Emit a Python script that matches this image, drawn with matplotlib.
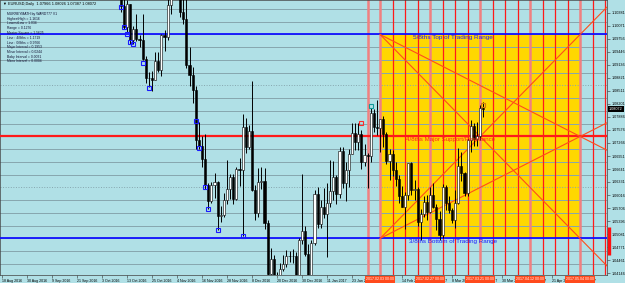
import matplotlib
matplotlib.use("Agg")
import matplotlib.pyplot as plt
import matplotlib.transforms as mtransforms
from matplotlib.patches import Rectangle

# ---------------- data ----------------
# bar index 0 = 18 Aug 2016 (daily bars, business days)
first_bar = 32  # 3 Oct 2016
opens = [1.1238, 1.1208, 1.1206, 1.1204, 1.1150, 1.1200, 1.1145, 1.1055, 1.1005, 1.1058, 1.0972, 1.0999, 1.0975, 1.0973, 1.0927, 1.0883, 1.0882, 1.0877, 1.0922, 1.0900, 1.0985,
         1.0980, 1.1057, 1.1094, 1.1102, 1.1137, 1.1039, 1.1024, 1.0912, 1.0890, 1.0852, 1.0734, 1.0720, 1.0689, 1.0625, 1.0588, 1.0627, 1.0633, 1.0552, 1.0553, 1.0590, 1.0617, 1.0646,
         1.0592, 1.0663, 1.0662, 1.0765, 1.0717, 1.0755, 1.0613, 1.0560, 1.0632, 1.0635, 1.0535, 1.0414, 1.0449, 1.0401, 1.0382, 1.0424, 1.0436, 1.0455, 1.0457, 1.0455, 1.0408, 1.0494,
         1.0517, 1.0460, 1.0403, 1.0487, 1.0605, 1.0532, 1.0573, 1.0556, 1.0583, 1.0612, 1.0644, 1.0605, 1.0707, 1.0631, 1.0662, 1.0701, 1.0750, 1.0728, 1.0749, 1.0680, 1.0697, 1.0695,
         1.0798, 1.0765, 1.0763, 1.0784, 1.0749, 1.0683, 1.0700, 1.0661, 1.0640, 1.0599, 1.0574, 1.0601, 1.0679, 1.0614, 1.0617, 1.0538, 1.0557, 1.0586, 1.0561, 1.0603,
         1.0574, 1.0544, 1.0506, 1.0620, 1.0582, 1.0566, 1.0543, 1.0582, 1.0672, 1.0655, 1.0606, 1.0733, 1.0766, 1.0737, 1.0742, 1.0810]
highs = [1.1250, 1.1245, 1.1238, 1.1216, 1.1204, 1.1200, 1.1149, 1.1077, 1.1068, 1.1058, 1.1007, 1.1035, 1.0985, 1.1036, 1.0935, 1.0896, 1.0899, 1.0945, 1.0943, 1.0988, 1.0997,
         1.1070, 1.1111, 1.1126, 1.1144, 1.1144, 1.1072, 1.1300, 1.0955, 1.0909, 1.0863, 1.0777, 1.0742, 1.0748, 1.0630, 1.0634, 1.0654, 1.0635, 1.0576, 1.0606, 1.0685, 1.0653, 1.0652,
         1.0668, 1.0690, 1.0796, 1.0787, 1.0770, 1.0875, 1.0625, 1.0667, 1.0670, 1.0666, 1.0541, 1.0474, 1.0459, 1.0418, 1.0440, 1.0458, 1.0470, 1.0468, 1.0473, 1.0466, 1.0498, 1.0653,
         1.0528, 1.0485, 1.0494, 1.0615, 1.0622, 1.0591, 1.0618, 1.0630, 1.0685, 1.0683, 1.0650, 1.0718, 1.0718, 1.0682, 1.0712, 1.0775, 1.0775, 1.0775, 1.0757, 1.0724, 1.0702, 1.0810,
         1.0808, 1.0829, 1.0784, 1.0792, 1.0752, 1.0711, 1.0710, 1.0681, 1.0651, 1.0623, 1.0610, 1.0679, 1.0680, 1.0637, 1.0620, 1.0569, 1.0600, 1.0602, 1.0621, 1.0630,
         1.0580, 1.0564, 1.0629, 1.0625, 1.0600, 1.0572, 1.0615, 1.0714, 1.0705, 1.0658, 1.0737, 1.0782, 1.0774, 1.0777, 1.0818, 1.0824]
lows = [1.1195, 1.1185, 1.1185, 1.1145, 1.1110, 1.1139, 1.1040, 1.0998, 1.0993, 1.0964, 1.0963, 1.0970, 1.0955, 1.0925, 1.0870, 1.0860, 1.0851, 1.0876, 1.0897, 1.0886, 1.0946,
        1.0972, 1.1036, 1.1073, 1.1074, 1.1028, 1.1011, 1.0906, 1.0863, 1.0822, 1.0712, 1.0713, 1.0668, 1.0617, 1.0568, 1.0583, 1.0596, 1.0518, 1.0537, 1.0550, 1.0581, 1.0592, 1.0580,
        1.0589, 1.0623, 1.0505, 1.0702, 1.0712, 1.0611, 1.0543, 1.0550, 1.0616, 1.0520, 1.0366, 1.0395, 1.0386, 1.0352, 1.0380, 1.0420, 1.0430, 1.0441, 1.0440, 1.0374, 1.0401, 1.0485,
        1.0455, 1.0340, 1.0388, 1.0482, 1.0523, 1.0522, 1.0546, 1.0453, 1.0574, 1.0590, 1.0580, 1.0595, 1.0618, 1.0588, 1.0621, 1.0699, 1.0710, 1.0709, 1.0663, 1.0671, 1.0618, 1.0680,
        1.0752, 1.0745, 1.0704, 1.0718, 1.0677, 1.0639, 1.0648, 1.0624, 1.0584, 1.0573, 1.0521, 1.0590, 1.0603, 1.0590, 1.0529, 1.0494, 1.0550, 1.0542, 1.0560, 1.0570,
        1.0518, 1.0494, 1.0500, 1.0567, 1.0560, 1.0536, 1.0524, 1.0580, 1.0636, 1.0599, 1.0599, 1.0705, 1.0719, 1.0720, 1.0734, 1.0789]
closes = [1.1208, 1.1206, 1.1204, 1.1150, 1.1200, 1.1145, 1.1055, 1.1005, 1.1058, 1.0972, 1.0999, 1.0975, 1.0973, 1.0927, 1.0883, 1.0882, 1.0877, 1.0922, 1.0900, 1.0985, 1.0980,
          1.1057, 1.1094, 1.1102, 1.1137, 1.1039, 1.1024, 1.0912, 1.0890, 1.0852, 1.0734, 1.0720, 1.0689, 1.0625, 1.0588, 1.0627, 1.0633, 1.0552, 1.0553, 1.0590, 1.0617, 1.0646, 1.0592,
          1.0663, 1.0662, 1.0765, 1.0717, 1.0755, 1.0613, 1.0560, 1.0632, 1.0635, 1.0535, 1.0414, 1.0449, 1.0401, 1.0382, 1.0424, 1.0436, 1.0455, 1.0457, 1.0455, 1.0408, 1.0494, 1.0517,
          1.0460, 1.0403, 1.0487, 1.0605, 1.0532, 1.0573, 1.0556, 1.0583, 1.0612, 1.0644, 1.0605, 1.0707, 1.0631, 1.0662, 1.0701, 1.0750, 1.0728, 1.0749, 1.0680, 1.0697, 1.0695, 1.0798,
          1.0765, 1.0763, 1.0784, 1.0749, 1.0683, 1.0700, 1.0661, 1.0640, 1.0599, 1.0574, 1.0601, 1.0679, 1.0614, 1.0617, 1.0538, 1.0557, 1.0586, 1.0561, 1.0603, 1.0574,
          1.0544, 1.0506, 1.0620, 1.0582, 1.0566, 1.0543, 1.0582, 1.0672, 1.0655, 1.0606, 1.0733, 1.0766, 1.0737, 1.0742, 1.0810, 1.0807]

# x-axis date labels (every 8 bars)
tick_step = 8
tick_labels = ["18 Aug 2016", "30 Aug 2016", "9 Sep 2016", "21 Sep 2016", "3 Oct 2016", "13 Oct 2016",
               "25 Oct 2016", "4 Nov 2016", "16 Nov 2016", "28 Nov 2016", "8 Dec 2016", "20 Dec 2016",
               "30 Dec 2016", "11 Jan 2017", "23 Jan 2017", "2 Feb 2017", "14 Feb 2017", "24 Feb 2017",
               "8 Mar 2017", "20 Mar 2017", "30 Mar 2017", "11 Apr 2017", "21 Apr 2017", "3 May 2017"]

# right price scale labels
price_ticks = [1.04146, 1.04461, 1.04771, 1.05081, 1.05396, 1.05706, 1.06016, 1.06331, 1.06641,
               1.06951, 1.07266, 1.07576, 1.07886, 1.08201, 1.08511, 1.08821, 1.09136, 1.09446,
               1.09756, 1.10071, 1.10381]
last_price = 1.08072

# Murrey math levels
level_top = 1.0986      # 5/8
level_mid = 1.0742      # 4/8
level_bot = 1.0498      # 3/8
baby_interval = 0.00305
baby_range = list(range(-3, 20))
dotted_baby = [4, 12]

# time square / vertical lines
square_start = 121
square_end = 185
vline_idx = list(range(117, 194, 4))
vline_light = [117, 121, 137, 153, 169, 185]
vline_major = [121, 137, 153, 169, 185]
vline_dates = ["2017.02.03 00:00", "2017.02.27 00:00", "2017.03.21 00:00", "2017.04.12 00:00", "2017.05.04 00:00"]

# swing markers
sq_idx = [38, 39, 40, 41, 42, 45, 47, 62, 63, 65, 66, 69, 77]
sq_price = [1.1052, 1.1004, 1.0987, 1.0968, 1.0963, 1.0918, 1.0858, 1.0779, 1.0714, 1.0621, 1.0568, 1.0518, 1.0505]
sig_idx = [115, 118, 154]
sig_price = [1.0775, 1.0814, 1.0818]
sig_colors = ["#ff2a2a", "#109a9a", "#d07a10"]

info_lines = ["MURREYMATH by WARD777 V1", "HighestHigh = 1.1616", "LowestLow = 1.034", "Range = 0.1276",
              "Master Square = 1.5625", "Line : 4/8ths = 1.1719", "Line : 0/8ths = 0.9766",
              "Major Interval = 0.1953", "Minor Interval = 0.0244", "Baby Interval = 0.0031",
              "Micro Interval = 0.0004"]
header = "\u25BC EURUSD,Daily  1.07966 1.08026 1.07387 1.08072"

# ---------------- drawing ----------------
BG = "#b0e0e6"
FONT = ["Liberation Sans", "DejaVu Sans"]
plt.rcParams["font.family"] = FONT

fig = plt.figure(figsize=(6.25, 2.83), dpi=100, facecolor=BG)
ax = fig.add_axes([0.0, 8 / 283, 607 / 625, 275 / 283])
ax.set_facecolor(BG)
xmin, xmax = -0.64, 193.6
ax.set_xlim(xmin, xmax)
ax.set_ylim(1.04106, 1.10685)

# yellow trading-range square
ax.add_patch(Rectangle((square_start, level_bot), square_end - square_start, level_top - level_bot,
                       facecolor="#ffd700", edgecolor="none", zorder=0))

# baby grid lines
for k in baby_range:
    ls = ":" if k in dotted_baby else "-"
    ax.axhline(level_bot + k * baby_interval, color="#86a6ae", lw=0.7, ls=ls, zorder=1)

# vertical time lines
for v in vline_idx:
    if v in vline_light:
        ax.axvline(v, color="#f08080", lw=1.8, zorder=2)
    else:
        ax.axvline(v, color="#ff1a1a", lw=0.9, zorder=2)

# main levels
ax.axhline(level_top, color="#1010ff", lw=1.3, zorder=3)
ax.axhline(level_bot, color="#1010ff", lw=1.3, zorder=3)
ax.axhline(level_mid, color="#ff1a1a", lw=1.6, zorder=3)

# Gann fan diagonals from the square corners
span = square_end - square_start
for y0, y1 in [(level_top, level_bot), (level_bot, level_top), (level_top, level_mid), (level_bot, level_mid)]:
    slope = (y1 - y0) / span
    ax.plot([square_start, xmax], [y0, y0 + slope * (xmax - square_start)],
            color="#ff4d1a", lw=0.8, zorder=3)

# candles
for i, (o, h, l, c) in enumerate(zip(opens, highs, lows, closes)):
    x = first_bar + i
    ax.vlines(x, l, h, color="black", lw=0.7, zorder=4)
    bull = c >= o
    lo, hi = (o, c) if bull else (c, o)
    ax.bar(x, max(hi - lo, 0.00008), bottom=lo, width=0.7,
           color="white" if bull else "black", edgecolor="black", linewidth=0.4, zorder=5)

# markers
ax.plot(sq_idx, sq_price, "s", ms=3.4, mfc="none", mec="#1a1aff", mew=0.8, zorder=6)
for xi, yi, col in zip(sig_idx, sig_price, sig_colors):
    ax.plot([xi], [yi], "s", ms=3.4, mfc="none", mec=col, mew=0.8, zorder=6)

# level texts
ax.text(131.5, level_top - 0.0008, "5/8ths Top of Trading Range", color="#1a1aff",
        fontsize=4.6, va="center", ha="left", zorder=7)
ax.text(129.3, level_mid - 0.0008, "4/8ths Major Support/Resistance", color="#ff2020",
        fontsize=4.4, va="center", ha="left", zorder=7)
ax.text(130.2, level_bot - 0.0008, "3/8ths Bottom of Trading Range", color="#1a1aff",
        fontsize=4.5, va="center", ha="left", zorder=7)

# info panel
ax.text(0.005, 1 - 4.5 / 275, header, transform=ax.transAxes, fontsize=2.8, va="center",
        ha="left", color="black", family=FONT, zorder=8)
for j, line in enumerate(info_lines):
    ax.text(0.012, 1 - (14 + 4.75 * j) / 275, line, transform=ax.transAxes, fontsize=2.45,
            va="center", ha="left", color="#101030", zorder=8)

# axes / ticks
ax.set_xticks([tick_step * i for i in range(len(tick_labels))])
ax.set_xticklabels(tick_labels, fontsize=2.6, ha="left")
ax.tick_params(axis="x", length=2, width=0.4, pad=1.2, color="#303030")
ax.yaxis.tick_right()
ax.set_yticks(price_ticks)
ax.set_yticklabels([f"{p:.5f}" for p in price_ticks], fontsize=2.7)
ax.tick_params(axis="y", length=2, width=0.4, pad=1.2, color="#303030")
for s in ax.spines.values():
    s.set_color("#404040")
    s.set_linewidth(0.5)

# date boxes of the major vertical lines
tb = mtransforms.blended_transform_factory(ax.transData, ax.transAxes)
for v, lab in zip(vline_major, vline_dates):
    ax.text(v, -0.016, lab, transform=tb, fontsize=2.6, color="white", ha="center", va="center",
            bbox=dict(boxstyle="square,pad=0.35", fc="#ff4a1c", ec="none"), zorder=10, clip_on=False)

# current price label
tr = mtransforms.blended_transform_factory(ax.transAxes, ax.transData)
ax.text(1.003, last_price, f"{last_price:.5f}", transform=tr, fontsize=2.7, color="white",
        ha="left", va="center", bbox=dict(boxstyle="square,pad=0.3", fc="black", ec="none"),
        zorder=10, clip_on=False)
# red marker on the price scale
ax.plot([xmax + 0.5, xmax + 0.5], [1.0458, 1.0525], color="#ff1010", lw=2.4,
        clip_on=False, zorder=10, solid_capstyle="butt")

fig.savefig("out.png", dpi=100, facecolor=BG)
